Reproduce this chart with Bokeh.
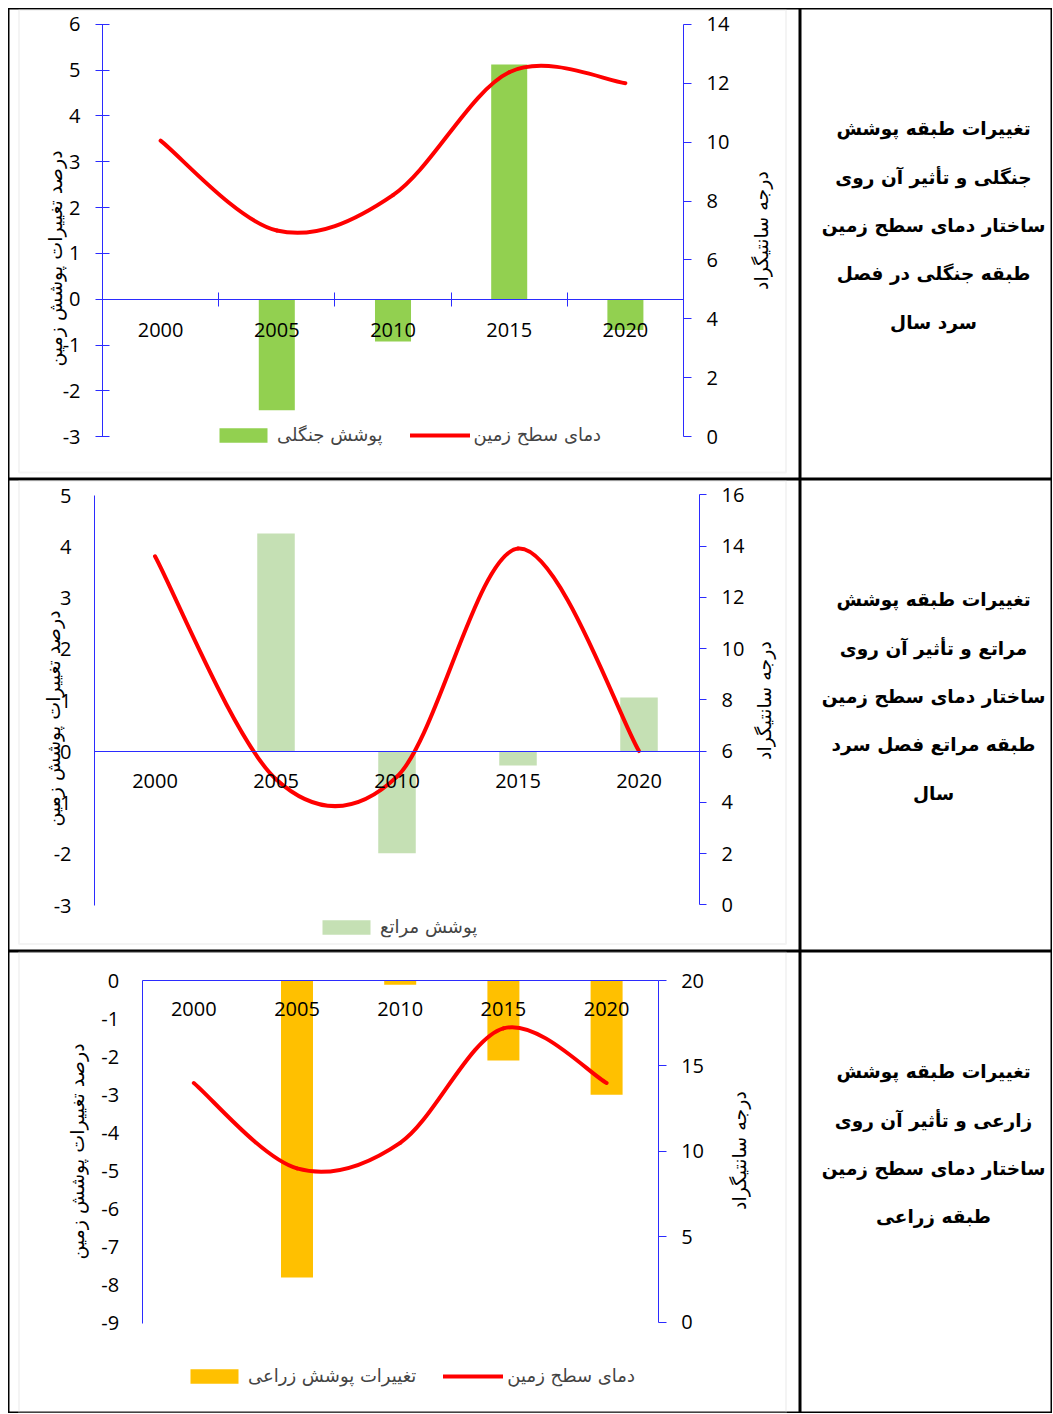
import math
from bokeh.plotting import figure
from bokeh.models import Range1d, LinearAxis, FixedTicker, Legend, LegendItem, BoxAnnotation
from bokeh.layouts import column, row
from bokeh.embed import file_html
from bokeh.resources import INLINE
from bokeh.core.properties import value

# ---------------- data ----------------
years = ["2000", "2005", "2010", "2015", "2020"]

forest_cover = [0.0, -2.42, -0.92, 5.12, -0.67]
forest_temp = [10.05, 7.0, 8.2, 12.37, 12.0]

pasture_cover = [0.0, 4.26, -1.98, -0.27, 1.06]
pasture_temp = [13.6, 4.9, 5.0, 13.9, 6.0]

farm_cover = [0.0, -7.8, -0.11, -2.1, -3.0]
farm_temp = [14.0, 9.0, 10.5, 17.2, 14.0]

forest_left_ticks = [-3, -2, -1, 0, 1, 2, 3, 4, 5, 6]
forest_right_ticks = [0, 2, 4, 6, 8, 10, 12, 14]
pasture_left_ticks = [-3, -2, -1, 0, 1, 2, 3, 4, 5]
pasture_right_ticks = [0, 2, 4, 6, 8, 10, 12, 14, 16]
farm_left_ticks = [-9, -8, -7, -6, -5, -4, -3, -2, -1, 0]
farm_right_ticks = [0, 5, 10, 15, 20]

left_title = "درصد تغییرات پوشش زمین"
right_title = "درجه سانتیگراد"
temp_label = "دمای سطح زمین"
forest_label = "پوشش جنگلی"
pasture_label = "پوشش مراتع"
farm_label = "تغییرات پوشش زراعی"

forest_caption = ["تغییرات طبقه پوشش", "جنگلی و تأثیر آن روی", "ساختار دمای سطح زمین",
                  "طبقه جنگلی در فصل", "سرد سال"]
pasture_caption = ["تغییرات طبقه پوشش", "مراتع و تأثیر آن روی", "ساختار دمای سطح زمین",
                   "طبقه مراتع فصل سرد", "سال"]
farm_caption = ["تغییرات طبقه پوشش", "زارعی و تأثیر آن روی", "ساختار دمای سطح زمین",
                "طبقه زراعی"]

# ---------------- styling ----------------
AXIS_BLUE = "#2B2BFF"
NUM_FONT = "Open Sans"
AR_FONT = "DejaVu Sans"
CHART_W = 792
TEXT_W = 252
ROW_H = [471, 472, 462]
ROW_Y = [8, 479, 951]
CAPTION_X = 133
CAPTION_Y = [119.5, 168.5, 216.5, 265.0, 314.0]


def bezier_parts(vals):
    n = len(vals)
    xs = list(range(n))
    ey = [vals[0]] + list(vals) + [vals[-1]]
    ex = [xs[0]] + xs + [xs[-1]]
    out = {k: [] for k in ("x0", "y0", "x1", "y1", "cx0", "cy0", "cx1", "cy1")}
    for i in range(n - 1):
        out["x0"].append(ex[i + 1]); out["y0"].append(ey[i + 1])
        out["x1"].append(ex[i + 2]); out["y1"].append(ey[i + 2])
        out["cx0"].append(ex[i + 1] + (ex[i + 2] - ex[i]) / 6.0)
        out["cy0"].append(ey[i + 1] + (ey[i + 2] - ey[i]) / 6.0)
        out["cx1"].append(ex[i + 2] - (ex[i + 3] - ex[i + 1]) / 6.0)
        out["cy1"].append(ey[i + 2] - (ey[i + 3] - ey[i + 1]) / 6.0)
    return out


def plain(ticks):
    return {t: str(t) for t in ticks}


def chart(cfg):
    ox, oy, W, H = 8, cfg["oy"], CHART_W, cfg["H"]
    xl, xr = cfg["xpx"]
    ltp, lbp = cfg["lpx"]
    lticks = cfg["lticks"]
    lt, lb = max(lticks), min(lticks)
    rtp, rbp = cfg["rpx"]
    rticks = cfg["rticks"]
    rt, rb = max(rticks), min(rticks)
    n = len(years)
    cw = (xr - xl) / n
    ux = lambda px: -0.5 + (px - xl) / cw
    sl = (lbp - ltp) / (lt - lb)
    vy = lambda py: lt - (py - ltp) / sl
    sr = (rbp - rtp) / (rt - rb)
    ty = lambda py: rt - (py - rtp) / sr

    p = figure(width=W, height=H, x_range=Range1d(ux(ox), ux(ox + W)),
               y_range=Range1d(vy(oy + H), vy(oy)),
               x_axis_location=None, y_axis_location=None,
               toolbar_location=None, output_backend="svg", title=None,
               min_border=0, min_border_left=0, min_border_right=0,
               min_border_top=0, min_border_bottom=0)
    p.extra_y_ranges = {"temp": Range1d(ty(oy + H), ty(oy))}
    p.outline_line_color = "black"
    p.outline_line_width = 2
    try:
        p.xgrid.visible = False
        p.ygrid.visible = False
    except Exception:
        pass

    gx0, gx1, gy0, gy1 = cfg["gray"]
    p.add_layout(BoxAnnotation(left=ux(gx0), right=ux(gx1), top=vy(gy0), bottom=vy(gy1),
                               fill_color=None, fill_alpha=0, line_color="#D9D9D9",
                               line_width=2))

    xs = list(range(n))
    bars = p.vbar(x=xs, top=cfg["cover"], bottom=0, width=0.31,
                  fill_color=cfg["color"], line_color=None)
    bz = bezier_parts(cfg["temp"])
    curve = p.bezier(**bz, line_color="#FF0000", line_width=4, line_cap="round",
                     y_range_name="temp")

    # left axis
    lax = LinearAxis(fixed_location=-0.5, bounds=(lb, lt), ticker=FixedTicker(ticks=lticks),
                     major_label_overrides=plain(lticks))
    lax.axis_line_color = AXIS_BLUE
    lax.major_tick_line_color = AXIS_BLUE
    lax.major_tick_in = cfg["ltick"]
    lax.major_tick_out = cfg["ltick"]
    lax.major_label_standoff = cfg["lstand"]
    lax.major_label_text_font = NUM_FONT
    lax.major_label_text_font_size = "20px"
    lax.major_label_text_color = "black"
    p.add_layout(lax, "left")

    # right axis
    rax = LinearAxis(y_range_name="temp", fixed_location=n - 0.5, bounds=(rb, rt),
                     ticker=FixedTicker(ticks=rticks), major_label_overrides=plain(rticks))
    rax.axis_line_color = AXIS_BLUE
    rax.major_tick_line_color = AXIS_BLUE
    rax.major_tick_in = 0
    rax.major_tick_out = cfg["rtick"]
    rax.major_label_standoff = 15
    rax.major_label_text_font = NUM_FONT
    rax.major_label_text_font_size = "20px"
    rax.major_label_text_color = "black"
    p.add_layout(rax, "right")

    # category axis on the zero line
    xax = LinearAxis(fixed_location=0, bounds=(-0.5, n - 0.5),
                     ticker=FixedTicker(ticks=xs, minor_ticks=[i - 0.5 for i in range(n + 1)]),
                     major_label_overrides={i: y for i, y in enumerate(years)})
    xax.axis_line_color = AXIS_BLUE
    xax.major_tick_line_color = None
    xax.major_tick_in = 0
    xax.major_tick_out = 0
    if cfg["xtick"]:
        xax.minor_tick_line_color = AXIS_BLUE
        xax.minor_tick_in = cfg["xtick"]
        xax.minor_tick_out = cfg["xtick"]
    else:
        xax.minor_tick_line_color = None
    xax.major_label_standoff = cfg["xstand"]
    xax.major_label_text_font = NUM_FONT
    xax.major_label_text_font_size = "20px"
    xax.major_label_text_color = "black"
    p.add_layout(xax, "below")

    # axis titles (rotated, reading bottom-to-top as in the reference)
    (lxp, lyp), (rxp, ryp) = cfg["ltitle"], cfg["rtitle"]
    p.text(x=[ux(lxp), ux(rxp)], y=[vy(lyp), vy(ryp)], text=[left_title, right_title],
           angle=math.pi / 2, text_align="center", text_baseline="middle",
           text_font=value(AR_FONT), text_font_size="19px", text_color="black")

    items = [LegendItem(label=cfg["label"], renderers=[bars])]
    if cfg["legend_line"]:
        items.append(LegendItem(label=temp_label, renderers=[curve]))
    lg = Legend(items=items, orientation="horizontal", location=cfg["legend_loc"],
                glyph_width=60, glyph_height=18, label_standoff=4, spacing=27,
                padding=0, margin=0, border_line_color=None, background_fill_alpha=0,
                label_text_font=AR_FONT, label_text_font_size="18px")
    p.add_layout(lg)
    return p


def caption(lines, H):
    p = figure(width=TEXT_W, height=H, x_range=Range1d(0, TEXT_W), y_range=Range1d(H, 0),
               x_axis_location=None, y_axis_location=None, toolbar_location=None,
               output_backend="svg", title=None, min_border=0, min_border_left=0,
               min_border_right=0, min_border_top=0, min_border_bottom=0)
    p.outline_line_color = "black"
    p.outline_line_width = 2
    try:
        p.xgrid.visible = False
        p.ygrid.visible = False
    except Exception:
        pass
    p.text(x=[CAPTION_X] * len(lines), y=CAPTION_Y[:len(lines)], text=lines,
           text_align="center", text_baseline="middle", text_font=value(AR_FONT),
           text_font_style="bold", text_font_size="18.5px", text_color="black")
    return p


cfgs = [
    dict(oy=ROW_Y[0], H=ROW_H[0], xpx=(102, 683), lpx=(23.7, 436.3), rpx=(23.7, 436.3),
         lticks=forest_left_ticks, rticks=forest_right_ticks, cover=forest_cover,
         temp=forest_temp, color="#92D050", ltick=7, rtick=8, xtick=7, lstand=15,
         xstand=17, gray=(18.5, 785.5, 9.5, 472.0),
         ltitle=(54, 258), rtitle=(760, 230),
         label=forest_label, legend_line=True, legend_loc=(205, 34)),
    dict(oy=ROW_Y[1], H=ROW_H[1], xpx=(94, 699), lpx=(495, 905), rpx=(494.3, 904.3),
         lticks=pasture_left_ticks, rticks=pasture_right_ticks, cover=pasture_cover,
         temp=pasture_temp, color="#C5E0B4", ltick=0, rtick=7, xtick=0, lstand=23,
         xstand=18, gray=(18.5, 785.5, 480.5, 943.5),
         ltitle=(52, 718), rtitle=(763, 700),
         label=pasture_label, legend_line=False, legend_loc=(308, 14)),
    dict(oy=ROW_Y[2], H=ROW_H[2], xpx=(141.7, 657.7), lpx=(980, 1322.7), rpx=(980, 1321.7),
         lticks=farm_left_ticks, rticks=farm_right_ticks, cover=farm_cover,
         temp=farm_temp, color="#FFC000", ltick=0, rtick=8, xtick=0, lstand=23,
         xstand=17, gray=(18.5, 785.5, 951.5, 1412.0),
         ltitle=(76, 1151), rtitle=(738, 1150),
         label=farm_label, legend_line=True, legend_loc=(176, 27)),
]

charts = [chart(c) for c in cfgs]
caps = [caption(forest_caption, ROW_H[0]), caption(pasture_caption, ROW_H[1]),
        caption(farm_caption, ROW_H[2])]

layout = column(row(charts[0], caps[0]), row(charts[1], caps[1]), row(charts[2], caps[2]),
                margin=(8, 0, 0, 8))

open("out.html", "w").write(file_html(layout, INLINE))
